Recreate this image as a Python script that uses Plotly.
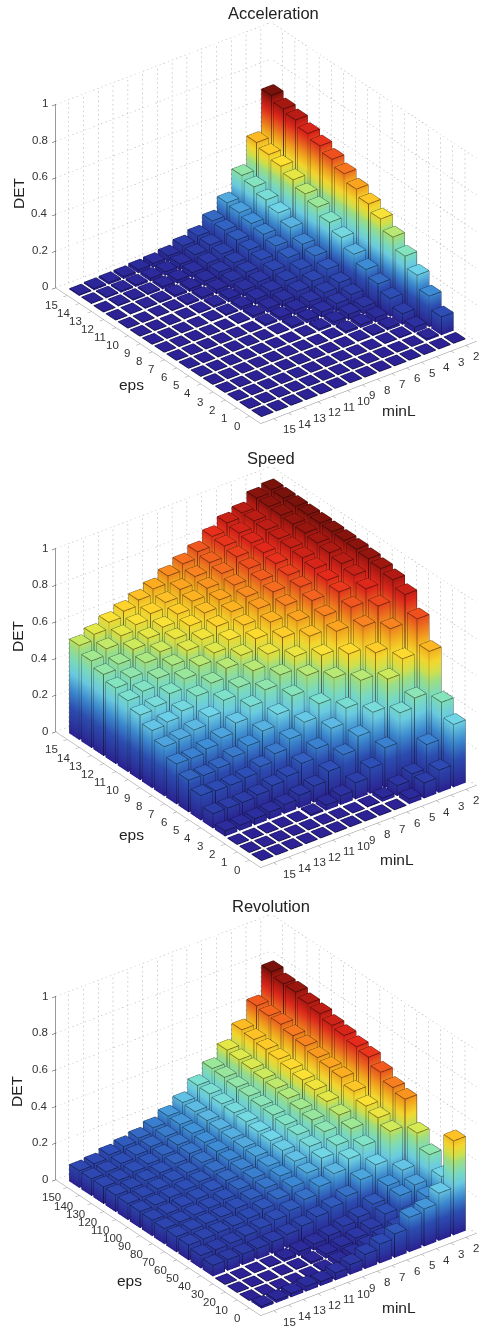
import math
import plotly.graph_objects as go

eps_ticks = list(range(16))
eps_ticks_revolution = list(range(0, 160, 10))
minL_ticks = list(range(2, 16))
det_ticks = [0, 0.2, 0.4, 0.6, 0.8, 1]
det_tick_text = ["0", "0.2", "0.4", "0.6", "0.8", "1"]

# one row per minL (2..15), each with the 16 eps values
acceleration_det = [
    [0, .10, .17, .24, .30, .36, .415, .453, .49, .53, .565, .594, .618, .648, .664, .694],
    [0, .01, .03, .06, .10, .135, .17, .209, .257, .295, .334, .363, .396, .426, .446, .468],
    [0, 0, .006, .014, .025, .04, .064, .084, .114, .143, .163, .21, .246, .273, .30, .319],
    [0, 0, .004, .008, .018, .03, .045, .06, .08, .10, .12, .14, .16, .175, .19, .20],
    [0, 0, 0, .005, .012, .02, .03, .042, .055, .068, .08, .095, .105, .115, .125, .132],
    [0, 0, 0, 0, .004, .012, .018, .026, .034, .042, .05, .058, .065, .07, .075, .08],
    [0, 0, 0, 0, 0, .004, .013, .018, .024, .03, .035, .04, .045, .05, .053, .057],
    [0, 0, 0, 0, 0, 0, .004, .011, .014, .017, .02, .024, .027, .03, .032, .033],
    [0, 0, 0, 0, 0, 0, 0, 0, .005, .008, .011, .014, .016, .019, .021, .023],
    [0, 0, 0, 0, 0, 0, 0, 0, 0, .004, .006, .009, .012, .015, .017, .019],
    [0, 0, 0, 0, 0, 0, 0, 0, 0, 0, .003, .005, .007, .009, .011, .013],
    [0, 0, 0, 0, 0, 0, 0, 0, 0, 0, 0, .003, .005, .007, .009, .011],
    [0, 0, 0, 0, 0, 0, 0, 0, 0, 0, 0, 0, .003, .005, .007, .009],
    [0, 0, 0, 0, 0, 0, 0, 0, 0, 0, 0, 0, 0, 0, .003, .005],
]
speed_det = [
    [.343, .42, .654, .787, .876, .913, .93, .94, .948, .952, .955, .958, .96, .962, .963, .965],
    [.124, .22, .43, .60, .72, .80, .85, .88, .90, .915, .925, .935, .94, .944, .947, .95],
    [.085, .09, .38, .52, .62, .72, .78, .82, .84, .86, .875, .885, .89, .895, .90, .90],
    [.028, .057, .22, .37, .50, .60, .68, .72, .76, .79, .81, .83, .845, .855, .865, .876],
    [0, .02, .14, .27, .38, .50, .58, .64, .68, .72, .75, .77, .79, .81, .825, .833],
    [0, .005, .09, .2, .30, .39, .50, .56, .62, .66, .69, .71, .73, .75, .765, .78],
    [0, 0, .05, .14, .22, .32, .42, .49, .56, .60, .63, .66, .68, .70, .72, .745],
    [0, 0, .03, .09, .17, .26, .35, .44, .50, .54, .58, .61, .64, .66, .68, .71],
    [0, 0, .01, .07, .13, .21, .29, .38, .44, .50, .54, .57, .60, .62, .64, .67],
    [0, 0, 0, .05, .11, .17, .24, .32, .40, .45, .50, .54, .56, .58, .61, .64],
    [0, 0, 0, .04, .09, .14, .21, .27, .34, .41, .46, .49, .52, .55, .58, .61],
    [0, 0, 0, .035, .08, .13, .18, .24, .30, .36, .41, .45, .49, .52, .55, .58],
    [0, 0, 0, .03, .08, .13, .17, .22, .28, .33, .37, .41, .44, .47, .51, .545],
    [0, 0, 0, .03, .08, .135, .175, .22, .27, .315, .355, .39, .415, .445, .475, .515],
]
revolution_det = [
    [.515, .276, .352, .426, .567, .587, .626, .665, .678, .695, .706, .726, .737, .756, .757, .78],
    [.26, .196, .217, .254, .422, .452, .472, .509, .54, .55, .561, .581, .593, .611, .613, .624],
    [.205, .13, .19, .20, .27, .33, .38, .41, .44, .46, .47, .485, .495, .505, .515, .524],
    [.19, .09, .12, .13, .22, .29, .32, .35, .37, .385, .40, .41, .42, .43, .435, .444],
    [.13, .065, .07, .09, .16, .24, .28, .30, .32, .33, .34, .345, .355, .36, .37, .374],
    [.105, .05, .05, .07, .13, .20, .23, .25, .265, .275, .28, .29, .295, .30, .31, .313],
    [.08, .035, .035, .05, .11, .16, .185, .20, .21, .22, .225, .23, .235, .24, .245, .25],
    [.055, .025, .025, .035, .09, .13, .15, .165, .175, .18, .185, .19, .195, .20, .205, .207],
    [.04, .01, .012, .025, .075, .11, .125, .135, .145, .15, .155, .16, .165, .168, .17, .174],
    [.024, .004, .005, .015, .065, .095, .105, .115, .12, .125, .13, .135, .14, .142, .145, .148],
    [.028, 0, .002, .005, .06, .085, .095, .10, .105, .11, .115, .12, .122, .126, .13, .133],
    [.02, 0, 0, .002, .06, .075, .09, .095, .098, .10, .105, .108, .11, .113, .115, .118],
    [.015, 0, 0, 0, .06, .07, .085, .09, .09, .092, .095, .095, .097, .098, .10, .10],
    [.013, 0, 0, 0, .06, .07, .083, .085, .085, .087, .09, .09, .092, .093, .093, .093],
]

JET_STOPS = [0, .06, .15, .25, .35, .42, .5, .55, .61, .69, .78, .87, .95, 1]
JET_COLORS = ["#2c2296", "#2d36a4", "#2e50b8", "#3f90d8", "#6fd4ea", "#7fe3c8", "#a5e888",
              "#d8ea50", "#ffe030", "#fdb020", "#f56a20", "#e62a1c", "#b01a12", "#7a120c"]


def darken(c, f):
    r, g, b = int(c[1:3], 16), int(c[3:5], 16), int(c[5:7], 16)
    return f"rgb({int(r * f)},{int(g * f)},{int(b * f)})"


JET = [[s, c] for s, c in zip(JET_STOPS, JET_COLORS)]
JET_DARK = [[s, darken(c, .36)] for s, c in zip(JET_STOPS, JET_COLORS)]

FONT = "Liberation Sans, Arial, sans-serif"
AZ_X, AZ_Y = -.797, .605
EL = math.radians(30.2)
EYE_DIST = 2.0


def bars(eps_vals, table, step):
    hw = 0.4 * step
    hm = 0.4
    vx, vy, vz, vi, i, j, k = [], [], [], [], [], [], []
    ex, ey, ez, ec = [], [], [], []
    for r, m in enumerate(minL_ticks):
        for c, e in enumerate(eps_vals):
            h = table[r][c]
            n = len(vx)
            xs = [e - hw, e + hw, e + hw, e - hw]
            ys = [m - hm, m - hm, m + hm, m + hm]
            vx += xs + xs
            vy += ys + ys
            vz += [0] * 4 + [h] * 4
            vi += [0] * 4 + [h] * 4
            i += [n + 4, n + 4]
            j += [n + 5, n + 6]
            k += [n + 6, n + 7]
            for a in range(4):
                b = (a + 1) % 4
                i += [n + a, n + a]
                j += [n + b, n + b + 4]
                k += [n + b + 4, n + a + 4]
            for a in range(4):
                b = (a + 1) % 4
                ex += [xs[a], xs[b], None, xs[a], xs[a], None]
                ey += [ys[a], ys[b], None, ys[a], ys[a], None]
                ez += [h, h, None, 0, h, None]
                ec += [h, h, 0, 0, h, 0]
    return (vx, vy, vz, vi, i, j, k), (ex, ey, ez, ec)


def dotted(store, p0, p1, n):
    for t in range(n):
        a, b = t / n, (t + .36) / n
        for s, u, v in zip(store, p0, p1):
            s += [u + (v - u) * a, u + (v - u) * b, None]


def panel(fig, name, eps_vals, table, ytop, scale_step):
    cmax = max(max(r) for r in table)
    (vx, vy, vz, vi, i, j, k), (ex, ey, ez, ec) = bars(eps_vals, table, scale_step)
    fig.add_trace(go.Mesh3d(x=vx, y=vy, z=vz, i=i, j=j, k=k, intensity=vi, colorscale=JET, cmin=0, cmax=cmax,
                            showscale=False, flatshading=True, hoverinfo="skip",
                            lighting=dict(ambient=.95, diffuse=.08, specular=0, roughness=1, fresnel=0),
                            scene=name))
    xlo, xhi = -.93 * scale_step, 15.95 * scale_step
    ylo, yhi = 1.3, 15.88
    fig.add_trace(go.Scatter3d(x=ex, y=ey, z=ez, mode="lines", hoverinfo="skip", showlegend=False,
                               line=dict(width=1.5, color=ec, colorscale=JET_DARK, cmin=0, cmax=cmax),
                               scene=name))
    grid = ([], [], [])
    for z in det_ticks:
        dotted(grid, (xhi, yhi, z), (xhi, ylo, z), 52)
        dotted(grid, (xlo, ylo, z), (xhi, ylo, z), 58)
    for m in minL_ticks:
        dotted(grid, (xhi, m, 0), (xhi, m, 1), 40)
    for e in eps_vals:
        dotted(grid, (e, ylo, 0), (e, ylo, 1), 40)
    fig.add_trace(go.Scatter3d(x=grid[0], y=grid[1], z=grid[2], mode="lines", hoverinfo="skip", showlegend=False,
                               line=dict(width=1, color="#a6a6a6"), scene=name))
    ann = []
    for e in eps_vals:
        two = len(str(e)) > 1
        ann.append(dict(x=e, y=yhi, z=0, text=str(e), showarrow=False, xshift=-16 if two else -13, yshift=-10,
                        font=dict(family=FONT, size=11.5, color="#333")))
    for m in minL_ticks:
        two = m >= 10
        ann.append(dict(x=xlo, y=m, z=0, text=str(m), showarrow=False, xshift=16 if two else 10, yshift=-11,
                        font=dict(family=FONT, size=11.5, color="#333")))
    for z, t in zip(det_ticks, det_tick_text):
        ann.append(dict(x=xhi, y=yhi, z=z, text=t, showarrow=False, xanchor="right", xshift=-6, yshift=1,
                        font=dict(family=FONT, size=11.5, color="#333")))
    d = EYE_DIST
    axis = dict(showgrid=False, zeroline=False, showbackground=False, showspikes=False, title="",
                showticklabels=False, showline=True, linecolor="#8a8a8a", linewidth=1, ticks="outside",
                ticklen=5, tickcolor="#8a8a8a")
    h = 424 / 1328
    top = 1 - ytop / 1328
    fig.update_layout(**{name: dict(
        domain=dict(x=[52 / 480, 1], y=[max(top - h, 0), top]),
        bgcolor="rgba(0,0,0,0)",
        aspectmode="manual", aspectratio=dict(x=1.6, y=1.276, z=1),
        camera=dict(projection=dict(type="orthographic"), up=dict(x=0, y=0, z=1), center=dict(x=0, y=0, z=0),
                    eye=dict(x=d * AZ_X * math.cos(EL), y=d * AZ_Y * math.cos(EL), z=d * math.sin(EL))),
        xaxis=dict(axis, range=[xlo, xhi], tickvals=eps_vals),
        yaxis=dict(axis, range=[ylo, yhi], tickvals=minL_ticks),
        zaxis=dict(axis, range=[0, 1], tickvals=det_ticks, linecolor="#333", tickcolor="#333"),
        annotations=ann,
    )})


fig = go.Figure()
panel(fig, "scene", eps_ticks, acceleration_det, 10.5, 1)
panel(fig, "scene2", eps_ticks, speed_det, 455, 1)
panel(fig, "scene3", eps_ticks_revolution, revolution_det, 903, 10)

labels = [
    ("Acceleration", 273, 13, 16.5, 0), ("Speed", 271, 458, 16.5, 0), ("Revolution", 271, 906, 16.5, 0),
    ("eps", 131, 384, 15.5, 0), ("eps", 131, 834, 15.5, 0), ("eps", 129, 1280, 15.5, 0),
    ("minL", 399, 411, 15.5, 0), ("minL", 397, 859, 15.5, 0), ("minL", 399, 1307, 15.5, 0),
    ("DET", 18, 193, 15.5, -90), ("DET", 17, 636, 15.5, -90), ("DET", 16, 1091, 15.5, -90),
]
fig.update_layout(
    width=480, height=1328, margin=dict(l=0, r=0, t=0, b=0), paper_bgcolor="white", showlegend=False,
    annotations=[dict(text=t, x=px / 480, y=1 - py / 1328, xref="paper", yref="paper", xanchor="center",
                      yanchor="middle", showarrow=False, textangle=a, font=dict(family=FONT, size=s, color="#222"))
                 for t, px, py, s, a in labels],
)
fig.write_html("out.html", config={"displayModeBar": False},
               post_script="document.body.style.margin='0';document.documentElement.style.overflow='hidden';")
